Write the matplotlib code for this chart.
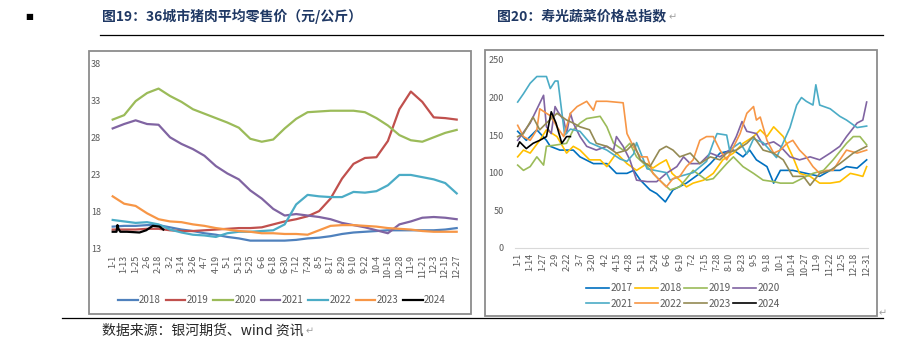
import matplotlib
matplotlib.use("Agg")
import matplotlib.pyplot as plt
from matplotlib.patches import Rectangle
from matplotlib.lines import Line2D

plt.rcParams['font.family'] = ['Noto Sans CJK SC', 'DejaVu Sans']

W, H = 909, 363

# ---- 图19: 36城市猪肉平均零售价 (sampled every 12 days) ----
pork_ticks = ["1-1", "1-13", "1-25", "2-6", "2-18", "3-2", "3-14", "3-26", "4-7", "4-19",
              "5-1", "5-13", "5-25", "6-6", "6-18", "6-30", "7-12", "7-24", "8-5", "8-17",
              "8-29", "9-10", "9-22", "10-4", "10-16", "10-28", "11-9", "11-21", "12-3",
              "12-15", "12-27"]
pork_days = [i * 12 for i in range(len(pork_ticks))]
pork_2018 = [15.9, 16.0, 16.0, 16.1, 16.1, 15.8, 15.5, 15.3, 15.0, 14.8, 14.5, 14.3, 14.0, 14.0,
             14.0, 14.0, 14.1, 14.3, 14.4, 14.6, 14.9, 15.1, 15.2, 15.3, 15.4, 15.4, 15.4, 15.4,
             15.4, 15.5, 15.7]
pork_2019 = [15.5, 15.5, 15.5, 15.6, 15.6, 15.4, 15.3, 15.3, 15.4, 15.5, 15.6, 15.7, 15.7, 15.8,
             16.2, 16.6, 16.9, 17.3, 18.0, 19.7, 22.4, 24.4, 25.2, 25.3, 27.5, 31.8, 34.2, 32.8,
             30.7, 30.6, 30.4]
pork_2020 = [30.4, 31.0, 32.9, 34.0, 34.6, 33.6, 32.8, 31.8, 31.2, 30.6, 30.0, 29.3, 27.8, 27.4,
             27.7, 29.2, 30.5, 31.4, 31.5, 31.6, 31.6, 31.6, 31.4, 30.6, 29.6, 28.3, 27.6, 27.4,
             28.0, 28.6, 29.0]
pork_2021 = [29.2, 29.8, 30.3, 29.8, 29.7, 28.0, 27.1, 26.4, 25.5, 24.1, 23.1, 22.3, 20.8, 19.7,
             18.3, 17.4, 17.6, 17.4, 17.2, 16.9, 16.4, 16.1, 15.8, 15.4, 15.0, 16.2, 16.6, 17.1,
             17.2, 17.1, 16.9]
pork_2022 = [16.8, 16.6, 16.4, 16.5, 16.2, 15.5, 15.1, 14.8, 14.7, 14.5, 15.0, 15.2, 15.2, 15.3,
             15.4, 16.2, 18.9, 20.2, 20.0, 19.9, 19.9, 20.6, 20.5, 20.7, 21.5, 22.9, 22.9, 22.6,
             22.3, 21.8, 20.4]
pork_2023 = [20.0, 19.0, 18.7, 17.7, 16.9, 16.6, 16.5, 16.2, 16.0, 15.7, 15.5, 15.3, 15.2, 15.0,
             15.0, 14.9, 14.9, 14.8, 15.4, 16.0, 16.1, 16.1, 16.0, 15.9, 15.7, 15.6, 15.5, 15.3,
             15.2, 15.2, 15.2]
pork_2024_days = [0, 4, 5, 6, 8, 15, 28, 35, 42, 49, 53]
pork_2024 = [15.2, 15.2, 16.1, 15.6, 15.2, 15.2, 15.1, 15.4, 16.0, 15.9, 15.5]

# ---- 图20: 寿光蔬菜价格总指数 (values read at day-of-year positions) ----
veg_ticks = ["1-1", "1-14", "1-27", "2-9", "2-22", "3-7", "3-20", "4-2", "4-15", "4-28",
             "5-11", "5-24", "6-6", "6-19", "7-2", "7-15", "7-28", "8-10", "8-23", "9-5",
             "9-18", "10-1", "10-14", "10-27", "11-9", "11-22", "12-5", "12-18", "12-31"]
veg_tick_days = [i * 13 for i in range(len(veg_ticks))]

veg_2017_days = [0, 9, 20, 30, 34, 44, 58, 65, 79, 93, 103, 114, 121, 128, 138, 145, 154, 162, 176,
                 190, 201, 211, 225, 235, 242, 249, 260, 267, 274, 287, 301, 308, 315, 326, 336,
                 343, 354, 364]
veg_2017 = [155, 143, 157, 143, 135, 130, 130, 121, 112, 112, 99, 99, 103, 90, 77, 72, 61, 77, 86,
            99, 112, 126, 130, 121, 130, 117, 108, 86, 103, 103, 99, 97, 95, 103, 103, 108, 106, 117]
veg_2018_days = [0, 6, 13, 23, 30, 41, 51, 58, 65, 75, 86, 93, 103, 114, 124, 135, 141, 148, 155,
                 161, 169, 176, 183, 194, 204, 214, 225, 235, 246, 253, 260, 267, 277, 287, 294,
                 305, 315, 326, 336, 347, 354, 360, 364]
veg_2018 = [121, 130, 126, 143, 157, 148, 126, 135, 130, 117, 117, 108, 126, 112, 103, 112, 106,
            112, 117, 99, 90, 81, 86, 90, 99, 117, 126, 139, 148, 157, 148, 161, 148, 121, 99, 95,
            86, 86, 88, 99, 97, 95, 108]
veg_2019_days = [0, 6, 13, 20, 27, 30, 41, 51, 58, 65, 72, 86, 93, 100, 110, 117, 124, 135, 148,
                 159, 169, 183, 197, 204, 218, 225, 235, 246, 256, 267, 274, 287, 301, 308, 319,
                 329, 343, 350, 357, 364]
veg_2019 = [110, 103, 108, 121, 110, 135, 137, 139, 157, 166, 172, 175, 161, 139, 130, 139, 121,
            108, 90, 77, 81, 103, 90, 92, 112, 121, 108, 99, 90, 88, 86, 86, 95, 99, 103, 117, 139,
            148, 148, 137]
veg_2020_days = [0, 13, 27, 30, 35, 39, 42, 48, 51, 55, 58, 65, 72, 82, 93, 100, 103, 110, 117, 124,
                 135, 145, 155, 166, 173, 180, 190, 201, 211, 221, 228, 234, 239, 249, 256, 267,
                 274, 284, 294, 305, 315, 326, 336, 343, 354, 360, 364]
veg_2020 = [143, 166, 203, 161, 152, 188, 181, 170, 152, 179, 166, 148, 135, 130, 135, 130, 148,
            135, 117, 90, 88, 88, 99, 108, 121, 112, 112, 126, 121, 130, 148, 168, 155, 152, 137,
            141, 135, 121, 117, 121, 117, 126, 135, 148, 166, 170, 194]
veg_2021_days = [0, 6, 13, 20, 30, 34, 39, 42, 49, 55, 65, 75, 93, 107, 114, 121, 124, 135, 155,
                 159, 169, 183, 197, 204, 208, 218, 221, 232, 239, 246, 256, 263, 270, 284, 291,
                 296, 301, 308, 311, 315, 326, 336, 343, 354, 364]
veg_2021 = [194, 205, 219, 228, 228, 212, 222, 222, 150, 158, 155, 140, 130, 118, 115, 125, 140,
            105, 100, 90, 95, 100, 115, 140, 152, 150, 130, 140, 125, 145, 140, 130, 120, 160, 190,
            200, 195, 190, 217, 190, 185, 175, 170, 160, 162]
veg_2022_days = [0, 6, 13, 20, 23, 30, 35, 41, 48, 55, 62, 72, 79, 82, 93, 110, 114, 121, 128, 135,
                 141, 148, 155, 162, 169, 176, 183, 190, 197, 204, 211, 218, 225, 232, 239, 246,
                 249, 253, 260, 267, 274, 281, 287, 294, 301, 308, 315, 322, 329, 336, 343, 354, 364]
veg_2022 = [163, 148, 143, 157, 185, 179, 175, 161, 148, 179, 188, 195, 183, 195, 195, 193, 152,
            134, 121, 121, 99, 90, 81, 92, 95, 108, 117, 143, 148, 148, 130, 117, 134, 152, 179,
            188, 170, 174, 143, 126, 130, 139, 143, 130, 121, 108, 99, 103, 103, 117, 130, 126, 130]
veg_2023_days = [0, 6, 16, 23, 30, 41, 51, 58, 65, 75, 82, 93, 103, 114, 121, 128, 138, 148, 155,
                 162, 169, 180, 190, 201, 211, 218, 228, 239, 246, 256, 267, 277, 287, 298, 305,
                 315, 326, 336, 350, 364]
veg_2023 = [148, 152, 174, 157, 166, 179, 170, 166, 161, 157, 139, 135, 126, 130, 139, 117, 108,
            130, 135, 130, 121, 126, 112, 121, 117, 126, 130, 139, 148, 130, 126, 117, 95, 95, 83,
            99, 103, 112, 126, 135]
veg_2024_days = [0, 2, 9, 16, 23, 30, 35, 40, 46, 51, 55]
veg_2024 = [135, 141, 132, 139, 143, 148, 181, 166, 139, 148, 148]


def box(x0, y0, x1, y1):
    return [x0 / W, 1 - y1 / H, (x1 - x0) / W, (y1 - y0) / H]


fig = plt.figure(figsize=(W / 100, H / 100), dpi=100)

# decorations: bullet, titles, rules, frames, source note
fig.text(25 / W, 1 - 17 / H, "■", fontsize=6, color="black", va="center", family=["DejaVu Sans"])
title_color = "#1F3864"
fig.text(102 / W, 1 - 16 / H, "图19：36城市猪肉平均零售价（元/公斤）", fontsize=10,
         fontweight="bold", color=title_color, va="center")
fig.text(497 / W, 1 - 16 / H, "图20：寿光蔬菜价格总指数", fontsize=10,
         fontweight="bold", color=title_color, va="center")
fig.text(669 / W, 1 - 17 / H, "↵", fontsize=7, color="#A0A0A0", va="center", family=["DejaVu Sans"])
fig.add_artist(Line2D([100 / W, 883 / W], [1 - 35 / H, 1 - 35 / H], color="black", lw=0.9))
fig.add_artist(Line2D([62 / W, 883 / W], [1 - 318 / H, 1 - 318 / H], color="black", lw=0.9))
fig.add_artist(Rectangle((89 / W, 1 - 314 / H), (471 - 89) / W, (314 - 51) / H,
                         fill=False, ec="#8C8C8C", lw=1.3))
fig.add_artist(Rectangle((485 / W, 1 - 316 / H), (877 - 485) / W, (316 - 50) / H,
                         fill=False, ec="#8C8C8C", lw=1.3))
fig.text(102 / W, 1 - 331 / H, "数据来源：银河期货、wind 资讯", fontsize=10, color="#262626", va="center")
fig.text(306 / W, 1 - 331 / H, "↵", fontsize=7, color="#A0A0A0", va="center", family=["DejaVu Sans"])
fig.text(879 / W, 1 - 313 / H, "↵", fontsize=7, color="#A0A0A0", va="center", family=["DejaVu Sans"])

tick_color = "#595959"

# ---- left chart ----
ax1 = fig.add_axes(box(106, 63.5, 465, 248))
pork = [("2018", pork_days, pork_2018, "#4F81BD"),
        ("2019", pork_days, pork_2019, "#C0504D"),
        ("2020", pork_days, pork_2020, "#9BBB59"),
        ("2021", pork_days, pork_2021, "#8064A2"),
        ("2022", pork_days, pork_2022, "#4BACC6"),
        ("2023", pork_days, pork_2023, "#F79646"),
        ("2024", pork_2024_days, pork_2024, "black")]
for name, xs, ys, c in pork:
    ax1.plot(xs, ys, color=c, lw=1.6, label=name)
ax1.set_xlim(-7, 368.7)
ax1.set_ylim(13, 38)
ax1.set_yticks([13, 18, 23, 28, 33, 38])
ax1.set_xticks(pork_days)
ax1.set_xticklabels(pork_ticks, rotation=90)
ax1.tick_params(axis="both", length=0, labelsize=6.5, colors=tick_color)
ax1.tick_params(axis="x", pad=5)
for s in ax1.spines.values():
    s.set_visible(False)
ax1.legend(loc="center", bbox_to_anchor=(282 / W, 1 - 300 / H), bbox_transform=fig.transFigure,
           ncol=7, frameon=False, fontsize=7, handlelength=2.0, handletextpad=0.15,
           columnspacing=0.5, labelcolor=tick_color)

# ---- right chart ----
ax2 = fig.add_axes(box(515, 60, 868, 247.7))
veg = [("2017", veg_2017_days, veg_2017, "#0070C0"),
       ("2018", veg_2018_days, veg_2018, "#FFC000"),
       ("2019", veg_2019_days, veg_2019, "#9BBB59"),
       ("2020", veg_2020_days, veg_2020, "#8064A2"),
       ("2021", veg_2021_days, veg_2021, "#4BACC6"),
       ("2022", veg_2022_days, veg_2022, "#F79646"),
       ("2023", veg_2023_days, veg_2023, "#948A54"),
       ("2024", veg_2024_days, veg_2024, "black")]
lines = []
for name, xs, ys, c in veg:
    ln, = ax2.plot(xs, ys, color=c, lw=1.2, label=name)
    lines.append(ln)
ax2.set_xlim(-2.8, 365.4)
ax2.set_ylim(0, 250)
ax2.set_yticks([0, 50, 100, 150, 200, 250])
ax2.set_xticks(veg_tick_days)
ax2.set_xticklabels(veg_ticks, rotation=90)
ax2.tick_params(axis="both", length=0, labelsize=6.5, colors=tick_color)
ax2.tick_params(axis="y", pad=8)
for s in ax2.spines.values():
    s.set_visible(False)
ax2.spines["bottom"].set_visible(True)
ax2.spines["bottom"].set_color("#D9D9D9")
# legend filled row by row: 2017-2020 on top, 2021-2024 below
order = [0, 4, 1, 5, 2, 6, 3, 7]
ax2.legend([lines[i] for i in order], [veg[i][0] for i in order],
           loc="center", bbox_to_anchor=(683 / W, 1 - 296 / H), bbox_transform=fig.transFigure,
           ncol=4, frameon=False, fontsize=7.2, handlelength=2.3, handletextpad=0.15,
           columnspacing=0.2, labelspacing=0.55, labelcolor=tick_color)

fig.savefig("out.png", dpi=100)
